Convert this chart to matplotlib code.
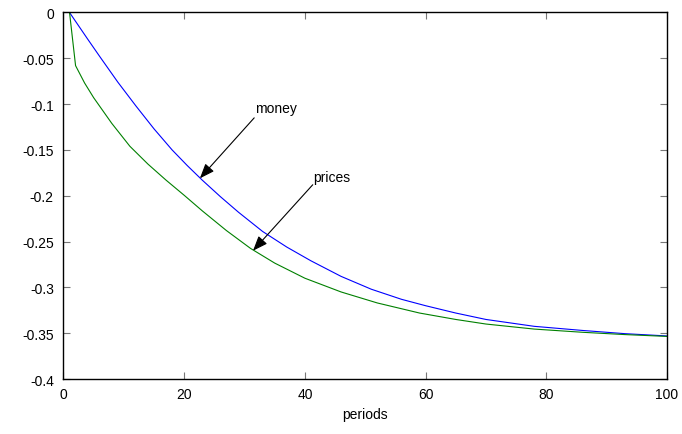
import matplotlib
matplotlib.use('Agg')
import matplotlib.pyplot as plt

# values
money_t = [1, 4, 6, 9, 12, 15, 18, 20.5, 23, 26, 29, 33, 37, 41, 46, 51, 56,
           60, 65, 70, 78, 86, 93, 100]
money = [0, -0.029, -0.048, -0.076, -0.102, -0.127, -0.150, -0.167, -0.183,
         -0.201, -0.218, -0.239, -0.256, -0.271, -0.288, -0.302, -0.313,
         -0.320, -0.328, -0.335, -0.3425, -0.347, -0.3505, -0.353]

prices_t = [1, 2, 3.5, 5, 8, 11, 14, 17, 20, 23, 27, 31, 35, 40, 46, 52, 59,
            65, 70, 78, 86, 93, 100]
prices = [0, -0.058, -0.077, -0.093, -0.121, -0.146, -0.1655, -0.183, -0.1995,
          -0.2165, -0.238, -0.2575, -0.2735, -0.290, -0.305, -0.317, -0.328,
          -0.335, -0.340, -0.3455, -0.349, -0.3515, -0.3535]

xticks = [0, 20, 40, 60, 80, 100]
yticks = [0, -0.05, -0.1, -0.15, -0.2, -0.25, -0.3, -0.35, -0.4]
ylabels = ['0', '-0.05', '-0.1', '-0.15', '-0.2', '-0.25', '-0.3', '-0.35', '-0.4']

plt.rcParams['font.family'] = ['Liberation Sans', 'DejaVu Sans']

fig = plt.figure(figsize=(6.82, 4.35), dpi=100)
ax = fig.add_axes([0.0931, 0.1264, 0.8849, 0.8426])

ax.plot(money_t, money, color='#0000ff', linewidth=0.8)
ax.plot(prices_t, prices, color='#008000', linewidth=0.8)

ax.set_xlim(0, 100)
ax.set_ylim(-0.4, 0)
ax.set_xticks(xticks)
ax.set_xticklabels([str(v) for v in xticks])
ax.set_yticks(yticks)
ax.set_yticklabels(ylabels)
ax.tick_params(direction='in', length=5, width=0.8, color='#777777',
               labelsize=10, top=True, right=True, labelcolor='black')
ax.tick_params(axis='x', pad=6)
ax.tick_params(axis='y', pad=7)
for s in ax.spines.values():
    s.set_linewidth(1.0)
ax.set_xlabel('periods', fontsize=10, labelpad=4)

arrow = dict(arrowstyle='-|>,head_length=0.9,head_width=0.35', color='black',
             lw=0.8, mutation_scale=10, shrinkA=0, shrinkB=0)
ax.annotate('', xy=(22.6, -0.181), xytext=(31.6, -0.115), arrowprops=arrow)
ax.text(31.7, -0.1046, 'money', fontsize=10, ha='left', va='center')
ax.annotate('', xy=(31.4, -0.260), xytext=(41.3, -0.188), arrowprops=arrow)
ax.text(41.4, -0.180, 'prices', fontsize=10, ha='left', va='center')

fig.savefig('out.png', dpi=100)
